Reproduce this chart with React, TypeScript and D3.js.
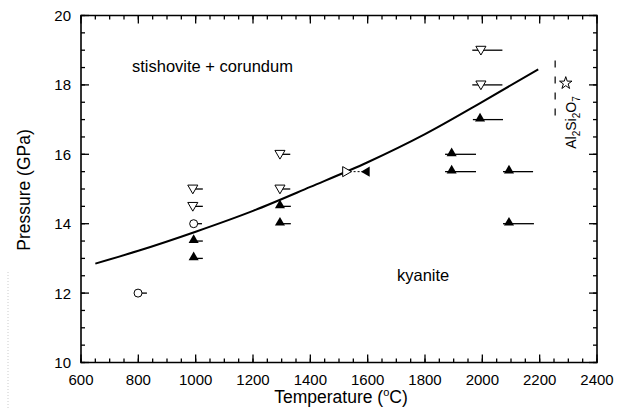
import React, { useEffect, useRef } from "react";
import * as d3 from "d3";

// phase boundary (T in degC, P in GPa)
const curveT = [650, 800, 1000, 1200, 1400, 1600, 1800, 2000, 2195];
const curveP = [12.85, 13.22, 13.77, 14.37, 15.06, 15.77, 16.58, 17.51, 18.45];

// open down triangles: stishovite + corundum
const downT = [990, 990, 1294, 1294, 1995, 1995];
const downP = [15, 14.5, 16, 15, 19, 18];
const downLo = [990, 990, 1294, 1294, 1965, 1965];
const downHi = [1025, 1025, 1330, 1330, 2070, 2070];

// open circles
const circT = [993, 799];
const circP = [14, 12];
const circLo = [993, 799];
const circHi = [1022, 830];

// filled up triangles: kyanite
const upT = [993, 993, 1294, 1294, 1992, 1893, 1893, 2093, 2093];
const upP = [13.5, 13, 14.5, 14, 17, 16, 15.5, 15.5, 14];
const upLo = [993, 993, 1294, 1294, 1967, 1870, 1870, 2072, 2072];
const upHi = [1025, 1025, 1332, 1332, 2072, 1978, 1978, 2177, 2180];

// reversal pair
const pairT = [1523, 1597];
const pairP = [15.5, 15.5];

// Al2Si2O7 star and its dashed boundary
const starT = 2291;
const starP = 18.05;
const dashT = 2254;
const dashP = [18.7, 16.95];

const xMajor = d3.range(600, 2401, 200);
const xMinor = d3.range(600, 2401, 50);
const yMajor = d3.range(10, 20.1, 2);
const yMinor = d3.range(10, 20.01, 0.5);

const font = "'Liberation Sans', Arial, Helvetica, sans-serif";

export default function App() {
  const x = d3.scaleLinear().domain([600, 2400]).range([81, 597]);
  const y = d3.scaleLinear().domain([10, 20]).range([362.5, 15.5]);
  const [x0, x1] = x.range();
  const [y0, y1] = y.range();

  const line = d3.line<number>()
    .x((d) => x(d))
    .y((d, i) => y(curveP[i]))
    .curve(d3.curveMonotoneX);

  const tri = d3.symbol().type(d3.symbolTriangle).size(44)() as string;
  const star = d3.symbol().type(d3.symbolStar).size(48)() as string;

  const xTick = (vals: number[], len: number, key: string) =>
    vals.map((d) => (
      <g key={key + d}>
        <line x1={x(d)} x2={x(d)} y1={y0} y2={y0 - len} />
        <line x1={x(d)} x2={x(d)} y1={y1} y2={y1 + len} />
      </g>
    ));
  const yTick = (vals: number[], len: number, key: string) =>
    vals.map((d) => (
      <g key={key + d}>
        <line x1={x0} x2={x0 + len} y1={y(d)} y2={y(d)} />
        <line x1={x1} x2={x1 - len} y1={y(d)} y2={y(d)} />
      </g>
    ));

  const bars = (lo: number[], hi: number[], p: number[], key: string) =>
    p.map((d, i) => (
      <line key={key + i} x1={x(lo[i])} x2={x(hi[i])} y1={y(d)} y2={y(d)} stroke="#000" strokeWidth={1.3} />
    ));

  return (
    <svg
      width={617}
      height={409}
      style={{ position: "absolute", left: 0, top: 0, background: "#fff" }}
      fontFamily={font}
    >
      {/* faint scan artefact at left edge */}
      <line x1={8} x2={8} y1={272} y2={409} stroke="#ccc" strokeDasharray="1,2" />

      {/* frame */}
      <path
        d={`M${x0},${y1}H${x1}V${y0}H${x0}Z`}
        fill="none"
        stroke="#000"
        strokeWidth={1.6}
      />

      {/* inward ticks */}
      <g stroke="#000" strokeWidth={1.3}>
        {xTick(xMinor, 4, "xm")}
        {xTick(xMajor, 8, "xM")}
        {yTick(yMinor, 4, "ym")}
        {yTick(yMajor, 8, "yM")}
      </g>

      {/* tick labels */}
      <g fontSize={15} textAnchor="middle">
        {xMajor.map((d) => (
          <text key={d} x={x(d)} y={385}>{d3.format("d")(d)}</text>
        ))}
      </g>
      <g fontSize={15} textAnchor="end">
        {yMajor.map((d) => (
          <text key={d} x={x0 - 10} y={y(d) + 5.5}>{d3.format("d")(d)}</text>
        ))}
      </g>

      {/* boundary curve */}
      <path d={line(curveT) ?? ""} fill="none" stroke="#000" strokeWidth={2} />

      {bars(downLo, downHi, downP, "bd")}
      {bars(circLo, circHi, circP, "bc")}
      {bars(upLo, upHi, upP, "bu")}

      {downT.map((d, i) => (
        <path key={"d" + i} d={tri} transform={`translate(${x(d)},${y(downP[i]) - 1}) rotate(180)`}
          fill="#fff" stroke="#000" strokeWidth={1} />
      ))}
      {circT.map((d, i) => (
        <circle key={"c" + i} cx={x(d)} cy={y(circP[i])} r={4} fill="#fff" stroke="#000" strokeWidth={1} />
      ))}
      {upT.map((d, i) => (
        <path key={"u" + i} d={tri} transform={`translate(${x(d)},${y(upP[i]) - 1})`} fill="#000" />
      ))}

      {/* reversal pair */}
      <line x1={x(pairT[0])} x2={x(pairT[1])} y1={y(pairP[0])} y2={y(pairP[1])}
        stroke="#000" strokeDasharray="2,2" />
      <path d={tri} transform={`translate(${x(pairT[0])},${y(pairP[0])}) rotate(90)`} fill="#fff" stroke="#000" />
      <path d={tri} transform={`translate(${x(pairT[1])},${y(pairP[1])}) rotate(-90)`} fill="#000" />

      {/* Al2Si2O7 */}
      <line x1={x(dashT)} x2={x(dashT)} y1={y(dashP[0])} y2={y(dashP[1])}
        stroke="#000" strokeWidth={1.2} strokeDasharray="7,9" />
      <path d={star} transform={`translate(${x(starT)},${y(starP)})`} fill="#fff" stroke="#000" strokeWidth={1} />
      <text transform="translate(576,122.5) rotate(-90)" textAnchor="middle" fontSize={14}>
        <tspan>Al</tspan>
        <tspan fontSize={10} dy={4}>2</tspan>
        <tspan dy={-4}>Si</tspan>
        <tspan fontSize={10} dy={4}>2</tspan>
        <tspan dy={-4}>O</tspan>
        <tspan fontSize={10} dy={4}>7</tspan>
      </text>

      {/* region labels */}
      <text x={132} y={72} fontSize={16.5}>stishovite + corundum</text>
      <text x={397} y={281} fontSize={16.5}>kyanite</text>

      {/* axis titles */}
      <text x={341} y={403} textAnchor="middle" fontSize={17.5}>
        Temperature (<tspan fontSize={11} dy={-7}>o</tspan><tspan dy={7}>C)</tspan>
      </text>
      <text transform="translate(30,190) rotate(-90)" textAnchor="middle" fontSize={17.5}>
        Pressure (GPa)
      </text>
    </svg>
  );
}
